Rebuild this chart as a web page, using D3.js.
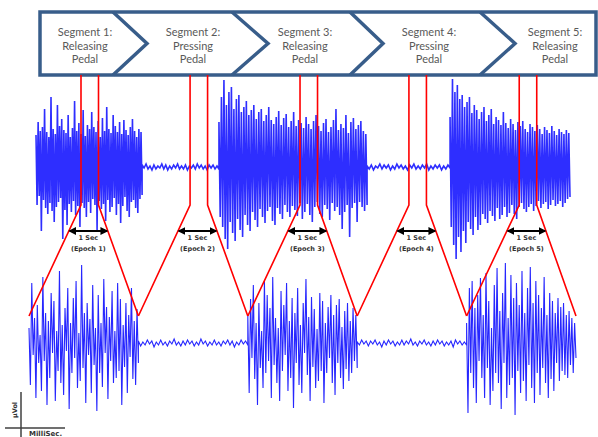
<!DOCTYPE html>
<html><head><meta charset="utf-8">
<script src="https://cdn.jsdelivr.net/npm/d3@7"></script>
<style>body{margin:0;background:#fff}svg{display:block}</style>
</head><body>
<svg id="c" width="598" height="437"></svg>
<script>
// ---------------- DATA ----------------
const segmentLabels = [
  ["Segment 1:", "Releasing", "Pedal"],
  ["Segment 2:", "Pressing", "Pedal"],
  ["Segment 3:", "Releasing", "Pedal"],
  ["Segment 4:", "Pressing", "Pedal"],
  ["Segment 5:", "Releasing", "Pedal"]
];
const epochNames = ["(Epoch 1)", "(Epoch 2)", "(Epoch 3)", "(Epoch 4)", "(Epoch 5)"];
const epochDurationLabel = "1 Sec";
const epochStarts = [2.57, 8.8, 15.08, 21.3, 27.6];   // seconds in the full recording
const epochLength = 1;                                 // seconds
const topBounds = [0, 6.06, 10.45, 18.91, 23.65, 30.5]; // burst / rest boundaries (s)
const bottomBounds = [0, 1, 2, 3, 4, 5];               // the five 1-s epochs, concatenated

// full recording (µV), bursts and rests
const topBurst1 = [
32,-38,45,-29,36,-64,40,-33,58,-41,
35,-47,30,-36,70,-44,38,-55,33,-40,
62,-35,41,-31,48,-72,37,-43,34,-58,
52,-37,30,-45,39,-34,66,-48,36,-39,
44,-60,33,-36,57,-41,31,-50,42,-35,
38,-46,55,-32,40,-38,35,-63,46,-34,
30,-42,49,-37,36,-54,60,-33,38,-45,
34,-40,52,-31,41,-48,35,-37,45,-56,
33,-39,47,-30,37,-44,32,-50,40,-35,
48,-33,36,-41,30,-46,38,-32,35,-28];
const topRest1 = [2,-1,3,-2,1,-3,2,-2,1,-1,3,-2,2,-3,1,-2,2,-1,3,-2,1,-2,2,-3,1,-1,2,-2,3,-1,2,-2,1,-3,2,-1,2,-2,1,-2];
const topBurst2 = [
45,-50,70,-60,87,-72,62,-82,75,-55,
80,-66,58,-74,68,-52,72,-63,55,-70,
60,-48,66,-58,52,-64,57,-45,62,-53,
48,-60,55,-42,58,-50,46,-56,52,-44,
60,-40,47,-54,43,-58,50,-41,56,-47,
42,-52,49,-38,53,-45,40,-50,46,-39,
55,-43,41,-49,47,-36,44,-52,39,-45,
50,-37,43,-48,38,-55,46,-40,52,-35,
41,-47,36,-50,44,-38,48,-42,35,-53,
40,-36,47,-44,58,-40,37,-48,43,-62,
39,-45,52,-38,34,-70,45,-41,49,-36,
38,-55,42,-35,46,-40,36,-44,33,-38];
const topRest2 = [1,-2,2,-3,1,-1,3,-2,2,-1,2,-3,1,-2,3,-1,2,-2,1,-3,2,-1,3,-2,1,-2,2,-1,3,-3,1,-2,2,-1,2,-3,1,-2,2,-1];
const topBurst3 = [
50,-60,88,-78,75,-92,82,-70,68,-85,
72,-64,60,-76,65,-55,70,-62,54,-68,
62,-50,57,-63,48,-58,55,-47,60,-52,
46,-56,52,-44,58,-49,43,-54,50,-41,
47,-52,42,-48,55,-40,44,-50,39,-46,
48,-38,43,-47,37,-52,45,-40,41,-36,
46,-42,38,-45,35,-40,43,-37,40,-44,
36,-39,42,-34,38,-41,33,-37,40,-35,
37,-42,34,-38,41,-33,36,-39,32,-37,
38,-34,35,-40,33,-36,37,-32,34,-30];

// zoomed epochs (µV)
const epoch1 = [
15,-42,60,-12,25,-55,38,-20,8,-48,
66,-18,30,-62,22,-35,50,-10,42,-58,
12,-28,72,-40,18,-52,35,-8,55,-66,
20,-30,45,-15,62,-45,10,-38,78,-25,
30,-60,40,-12,24,-50,58,-22,15,-68,
48,-30,20,-44,64,-10,36,-56,26,-18,
52,-40,12,-35,60,-28,44,-62,18,-24,
40,-50,28,-14,55,-36,22,-42,34,-20];
const epoch2 = [2,-3,1,-2,3,-1,2,-4,1,-2,3,-2,1,-3,2,-1,4,-2,1,-3,2,-2,3,-1,2,-3,1,-2,4,-1,2,-3,1,-2,3,-2,1,-3,2,-1,3,-2,2,-4,1,-2,3,-1,2,-2];
const epoch3 = [
28,-50,44,-15,58,-36,20,-62,40,-25,
12,-45,62,-30,48,-18,35,-55,66,-22,
25,-40,15,-58,52,-28,38,-12,60,-48,
22,-35,45,-65,30,-20,55,-42,18,-50,
40,-10,64,-32,26,-58,46,-24,34,-45,
14,-38,50,-28,42,-60,20,-30,36,-15,
48,-40,28,-52,38,-20,44,-35,16,-46,
32,-26,40,-38,22,-30,35,-18,28,-25];
const epoch4 = [1,-2,3,-1,2,-3,2,-1,3,-2,1,-4,2,-2,3,-1,2,-3,1,-2,3,-2,2,-1,4,-2,1,-3,2,-1,3,-2,1,-3,2,-2,3,-1,2,-3,1,-2,2,-4,3,-1,2,-2,1,-2];
const epoch5 = [
20,-70,55,-30,62,-45,35,-60,48,-18,
65,-35,28,-55,70,-25,42,-62,15,-48,
58,-30,75,-40,32,-66,50,-20,80,-55,
25,-42,68,-35,45,-72,60,-28,38,-50,
72,-38,30,-58,55,-22,76,-45,40,-60,
62,-30,48,-52,35,-25,66,-40,28,-55,
50,-36,42,-48,30,-20,45,-38,36,-28,
40,-32,28,-35,32,-22,25,-30,20,-15];

const topSeries = [topBurst1, topRest1, topBurst2, topRest2, topBurst3];
const bottomSeries = [epoch1, epoch2, epoch3, epoch4, epoch5];

const axisLabels = {y: "µVol", x: "MilliSec."};

// ---------------- LAYOUT ----------------
const svg = d3.select("#c");
const box = {x0: 40, x1: 596, y0: 12, y1: 75};
const chevrons = [ {top: 113, tip: 147}, {top: 232, tip: 268}, {top: 350, tip: 383}, {top: 480, tip: 515} ];
const labelCenters = [85, 193, 305, 429, 555];
const elbowY = 205, bottomTopY = 316, arrowY = 231;

const xTop = d3.scaleLinear().domain([0, 30.5]).range([36, 570]);
const yTop = d3.scaleLinear().domain([-100, 100]).range([267, 67]);
const xBot = d3.scaleLinear().domain([0, 5]).range([29, 576]);
const yBot = d3.scaleLinear().domain([-100, 100]).range([443, 243]);

function seriesPoints(series, bounds, xs, ys) {
  const pts = [];
  series.forEach((vals, k) => {
    const t0 = bounds[k], t1 = bounds[k + 1], n = vals.length;
    vals.forEach((v, i) => pts.push([xs(t0 + (t1 - t0) * i / (n - 1)), ys(v)]));
  });
  return pts;
}
const line = d3.line();

const sig = svg.append("g");
sig.append("path").attr("d", line(seriesPoints(topSeries, topBounds, xTop, yTop)))
  .attr("fill", "none").attr("stroke", "#0000ff").attr("stroke-width", 1.6).attr("stroke-opacity", 0.82);
sig.append("path").attr("d", line(seriesPoints(bottomSeries, bottomBounds, xBot, yBot)))
  .attr("fill", "none").attr("stroke", "#0000ff").attr("stroke-width", 1.1).attr("stroke-opacity", 0.85);

// chevron process bar
const hdr = svg.append("g");
const midY = (box.y0 + box.y1) / 2;
hdr.append("rect").attr("x", box.x0).attr("y", box.y0).attr("width", box.x1 - box.x0).attr("height", box.y1 - box.y0)
  .attr("fill", "#fff").attr("stroke", "#385d8a").attr("stroke-width", 3.5);
chevrons.forEach(c => {
  hdr.append("path").attr("d", `M${c.top},${box.y0}L${c.tip},${midY}L${c.top},${box.y1}`)
    .attr("fill", "none").attr("stroke", "#385d8a").attr("stroke-width", 3.5).attr("stroke-linejoin", "miter");
});
segmentLabels.forEach((lines, i) => {
  lines.forEach((t, j) => {
    hdr.append("text").attr("x", labelCenters[i]).attr("y", 36 + j * 13.5)
      .attr("text-anchor", "middle").attr("font-family", "Lato, 'Open Sans', sans-serif")
      .attr("font-size", 11).attr("fill", "#595959").text(t);
  });
});

// red epoch connectors
const red = svg.append("g").attr("fill", "none").attr("stroke", "#ff0000").attr("stroke-width", 1.6);
const ann = svg.append("g");
svg.append("defs").append("marker").attr("id", "ah").attr("viewBox", "0 0 10 10")
  .attr("refX", 8).attr("refY", 5).attr("markerWidth", 4).attr("markerHeight", 4).attr("orient", "auto-start-reverse")
  .append("path").attr("d", "M0,0L10,5L0,10z").attr("fill", "#000");

epochStarts.forEach((s, i) => {
  const xa = xTop(s), xb = xTop(s + epochLength);
  const xl = xBot(bottomBounds[i]), xr = xBot(bottomBounds[i + 1]);
  red.append("path").attr("d", `M${xa},${box.y1}L${xa},${elbowY}L${xl},${bottomTopY}`);
  red.append("path").attr("d", `M${xb},${box.y1}L${xb},${elbowY}L${xr},${bottomTopY}`);
  const f = (arrowY - elbowY) / (bottomTopY - elbowY);
  const ax0 = xa + (xl - xa) * f, ax1 = xb + (xr - xb) * f;
  ann.append("line").attr("x1", ax0 + 1).attr("x2", ax1 - 1).attr("y1", arrowY).attr("y2", arrowY)
    .attr("stroke", "#000").attr("stroke-width", 2)
    .attr("marker-start", "url(#ah)").attr("marker-end", "url(#ah)");
  const cx = (ax0 + ax1) / 2;
  ann.append("text").attr("x", cx).attr("y", arrowY + 9).attr("text-anchor", "middle")
    .attr("font-family", "'DejaVu Sans', sans-serif").attr("font-weight", "bold").attr("font-size", 6.5)
    .attr("fill", "#333").text(epochDurationLabel);
  ann.append("text").attr("x", cx).attr("y", arrowY + 20).attr("text-anchor", "middle")
    .attr("font-family", "'DejaVu Sans', sans-serif").attr("font-weight", "bold").attr("font-size", 6.5)
    .attr("fill", "#333").text(epochNames[i]);
});

// axis key, bottom left
const key = svg.append("g").attr("stroke", "#404040").attr("stroke-width", 1.5);
key.append("line").attr("x1", 21).attr("x2", 21).attr("y1", 392).attr("y2", 437);
key.append("line").attr("x1", 5).attr("x2", 65).attr("y1", 428).attr("y2", 428);
svg.append("text").attr("transform", "translate(17,410) rotate(-90)").attr("text-anchor", "middle")
  .attr("font-family", "'DejaVu Sans', sans-serif").attr("font-weight", "bold").attr("font-size", 6.5)
  .attr("fill", "#333").text(axisLabels.y);
svg.append("text").attr("x", 29).attr("y", 436)
  .attr("font-family", "'DejaVu Sans', sans-serif").attr("font-weight", "bold").attr("font-size", 7)
  .attr("fill", "#333").text(axisLabels.x);
</script>
</body></html>
